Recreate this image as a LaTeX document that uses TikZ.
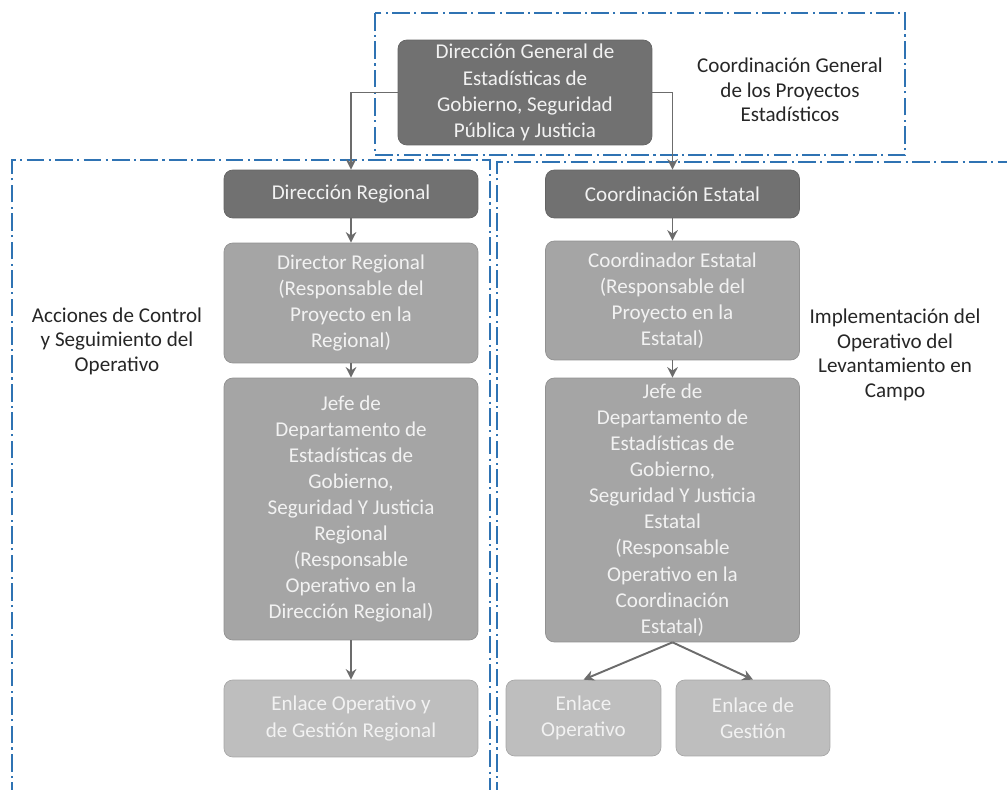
\documentclass[tikz,border=0pt]{standalone}
\usepackage{fontspec}
\setmainfont{Carlito}
\usepackage{tikz}
\usetikzlibrary{arrows.meta}
\usepackage{xcolor}
\definecolor{boxdark}{HTML}{717171}
\definecolor{boxmid}{HTML}{A5A5A5}
\definecolor{boxlight}{HTML}{BEBEBE}
\definecolor{frameblue}{HTML}{2F73B3}
\definecolor{linegray}{HTML}{6C6C6C}

\begin{document}
\begin{tikzpicture}[x=0.02cm,y=-0.02cm,
  every node/.style={font=\fontsize{12}{14.85}\selectfont},
  unit/.style={rounded corners=5pt, fill=#1, draw=#1!88!black, text=white!95!black,
    align=center, inner sep=0pt, minimum width=5.08cm},
  zone/.style={frameblue, line width=1.1pt, dash pattern=on 10pt off 2.5pt on 1.2pt off 2.5pt},
  conn/.style={linegray, line width=1.1pt, -{Stealth[length=6pt,width=6pt]}},
  zonetext/.style={align=center, text=black!85, font=\fontsize{12}{14}\selectfont}]
\useasboundingbox (0,0) rectangle (1007,790);
% dash-dot zones
\draw [zone] (375,13) rectangle (905,155);
\draw [zone] (12,800) -- (12,160) -- (490,160) -- (490,800);
\draw [zone] (497,800) -- (497,162) -- (1015,162);
% boxes
\node (dg) [unit=boxdark, minimum height=2.1cm] at (525,92.5) {Dirección General de\\Estadísticas de\\Gobierno, Seguridad\\Pública y Justicia};
\node (dreg) [unit=boxdark, minimum height=0.96cm] at (351,194) {Dirección Regional};
\node (cest) [unit=boxdark, minimum height=0.96cm] at (672.5,194) {Coordinación Estatal};
\node (dirreg) [unit=boxmid, minimum height=2.4cm] at (351,303) {Director Regional\\(Responsable del\\Proyecto en la\\Regional)};
\node (coordest) [unit=boxmid, minimum height=2.38cm] at (672.5,300.5) {Coordinador Estatal\\(Responsable del\\Proyecto en la\\Estatal)};
\node (jefereg) [unit=boxmid, minimum height=5.24cm] at (351,509) {Jefe de\\Departamento de\\Estadísticas de\\Gobierno,\\Seguridad Y Justicia\\Regional\\(Responsable\\Operativo en la\\Dirección Regional)};
\node (jefeest) [unit=boxmid, minimum height=5.28cm] at (672.5,510) {Jefe de\\Departamento de\\Estadísticas de\\Gobierno,\\Seguridad Y Justicia\\Estatal\\(Responsable\\Operativo en la\\Coordinación\\Estatal)};
\node (enlreg) [unit=boxlight, minimum height=1.54cm] at (351,718.5) {Enlace Operativo y\\de Gestión Regional};
\node (enlop) [unit=boxlight, minimum width=3.1cm, minimum height=1.52cm] at (583.5,718) {Enlace\\Operativo};
\node (enlges) [unit=boxlight, minimum width=3.08cm, minimum height=1.52cm] at (753,718) {Enlace de\\Gestión};
% zone texts
\node (cgtext) [zonetext] at (790,90) {Coordinación General\\de los Proyectos\\Estadísticos};
\node (actext) [zonetext] at (117,341) {Acciones de Control\\y Seguimiento del\\Operativo};
\node (imtext) [zonetext] at (895,355) {Implementación del\\Operativo del\\Levantamiento en\\Campo};
% connectors
\draw [conn] (dg.west) -| (dreg);
\draw [conn] (dg.east) -| (cest);
\draw [conn] (dreg) -- (dirreg);
\draw [conn] (dirreg) -- (jefereg);
\draw [conn] (jefereg) -- (enlreg);
\draw [conn] (cest) -- (coordest);
\draw [conn] (coordest) -- (jefeest);
\draw [conn] (jefeest.south) -- (enlop.north);
\draw [conn] (jefeest.south) -- (enlges.north);
\end{tikzpicture}
\end{document}
